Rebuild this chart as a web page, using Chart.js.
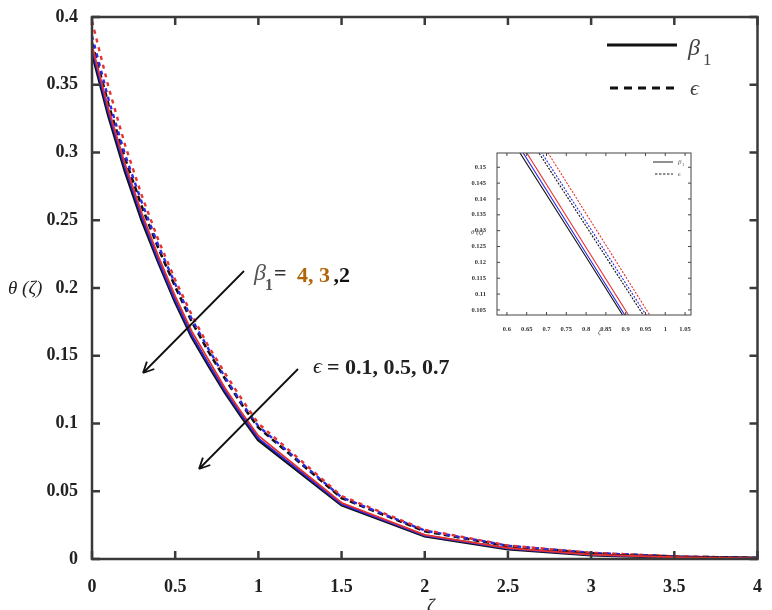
<!DOCTYPE html>
<html>
<head>
<meta charset="utf-8">
<script src="https://cdn.jsdelivr.net/npm/chart.js@4.4.1/dist/chart.umd.min.js"></script>
<style>
  html, body { margin: 0; padding: 0; background: #fff; }
  #wrap { position: relative; width: 772px; height: 610px; }
  #main { position: absolute; left: 0; top: 0; }
  #inset { position: absolute; left: 440px; top: 140px; }
</style>
</head>
<body>
<div id="wrap">
  <canvas id="main" width="772" height="610"></canvas>
  <canvas id="inset" width="260" height="200"></canvas>
</div>
<script>
// main plot: theta(zeta) profiles
const zeta = [0, 0.1, 0.2, 0.3, 0.4, 0.5, 0.6, 0.7, 0.8, 0.9, 1, 1.5, 2, 2.5, 3, 3.5, 4];
const beta4 = [0.374, 0.327, 0.286, 0.250, 0.219, 0.190, 0.164, 0.143, 0.123, 0.105, 0.088, 0.040, 0.017, 0.0075, 0.003, 0.0012, 0.0004];
const beta3 = [0.376, 0.329, 0.288, 0.252, 0.220, 0.191, 0.165, 0.144, 0.124, 0.106, 0.089, 0.0405, 0.0173, 0.0077, 0.0031, 0.0012, 0.0004];
const beta2 = [0.379, 0.332, 0.291, 0.255, 0.223, 0.194, 0.168, 0.147, 0.126, 0.108, 0.091, 0.0415, 0.0178, 0.008, 0.0033, 0.0013, 0.0005];
const eps01 = [0.381, 0.335, 0.295, 0.260, 0.229, 0.201, 0.175, 0.153, 0.133, 0.114, 0.097, 0.045, 0.0205, 0.0095, 0.0043, 0.0018, 0.0008];
const eps05 = [0.386, 0.339, 0.298, 0.263, 0.231, 0.203, 0.177, 0.155, 0.134, 0.115, 0.098, 0.0455, 0.021, 0.0098, 0.0045, 0.0019, 0.0008];
const eps07 = [0.397, 0.348, 0.305, 0.268, 0.235, 0.206, 0.180, 0.157, 0.137, 0.118, 0.100, 0.0465, 0.0215, 0.010, 0.0046, 0.002, 0.0009];

// inset: zoomed view
const zetaInset = [0.6, 0.8, 1.0];
const beta4Inset = [0.161, 0.1217, 0.082];
const beta3Inset = [0.1627, 0.1229, 0.083];
const beta2Inset = [0.1645, 0.1247, 0.0849];
const eps01Inset = [0.1702, 0.1314, 0.0926];
const eps05Inset = [0.1716, 0.1328, 0.094];
const eps07Inset = [0.1752, 0.1354, 0.0956];

const BLACK = '#111111';
const RED = '#e8302f';
const BLUE = '#2b2be6';
const SERIF = '"Liberation Serif", "DejaVu Serif", serif';

const pts = (xs, ys) => xs.map((x, i) => ({ x: x, y: ys[i] }));
const fmt = v => String(+(+v).toFixed(3));

// box around the plot area with inward ticks on all four sides
const boxTicks = {
  id: 'boxTicks',
  afterDatasetsDraw(chart, args, opts) {
    const { ctx, chartArea: a, scales: { x, y } } = chart;
    ctx.save();
    ctx.strokeStyle = opts.color;
    ctx.lineWidth = opts.tickWidth;
    ctx.beginPath();
    x.ticks.forEach(t => {
      const px = x.getPixelForValue(t.value);
      ctx.moveTo(px, a.bottom); ctx.lineTo(px, a.bottom - opts.len);
      ctx.moveTo(px, a.top); ctx.lineTo(px, a.top + opts.len);
    });
    y.ticks.forEach(t => {
      const py = y.getPixelForValue(t.value);
      ctx.moveTo(a.left, py); ctx.lineTo(a.left + opts.len, py);
      ctx.moveTo(a.right, py); ctx.lineTo(a.right - opts.len, py);
    });
    ctx.stroke();
    ctx.lineWidth = opts.width;
    ctx.strokeRect(a.left, a.top, a.right - a.left, a.bottom - a.top);
    ctx.restore();
  }
};

function arrow(ctx, x1, y1, x2, y2, head) {
  const ang = Math.atan2(y2 - y1, x2 - x1);
  ctx.beginPath();
  ctx.moveTo(x1, y1); ctx.lineTo(x2, y2);
  ctx.moveTo(x2, y2);
  ctx.lineTo(x2 - head * Math.cos(ang - 0.45), y2 - head * Math.sin(ang - 0.45));
  ctx.moveTo(x2, y2);
  ctx.lineTo(x2 - head * Math.cos(ang + 0.45), y2 - head * Math.sin(ang + 0.45));
  ctx.stroke();
}

const mainNotes = {
  id: 'mainNotes',
  afterDraw(chart) {
    const ctx = chart.ctx;
    ctx.save();
    // legend
    ctx.strokeStyle = BLACK;
    ctx.lineWidth = 3;
    ctx.beginPath(); ctx.moveTo(607, 45); ctx.lineTo(677, 45); ctx.stroke();
    ctx.setLineDash([8, 6]);
    ctx.beginPath(); ctx.moveTo(610, 88); ctx.lineTo(676, 88); ctx.stroke();
    ctx.setLineDash([]);
    ctx.fillStyle = '#444';
    ctx.textBaseline = 'alphabetic';
    ctx.font = 'italic 24px ' + SERIF;
    ctx.fillText('β', 688, 55);
    ctx.font = '17px ' + SERIF;
    ctx.fillText('1', 703, 65);
    ctx.font = 'italic 22px ' + SERIF;
    ctx.fillText('ϵ', 690, 95);

    // arrows
    ctx.strokeStyle = '#111';
    ctx.lineWidth = 1.8;
    arrow(ctx, 244, 271, 143, 373, 12);
    arrow(ctx, 298, 369, 199, 469, 12);

    // beta annotation
    ctx.fillStyle = '#555';
    ctx.font = 'italic 24px ' + SERIF;
    ctx.fillText('β', 254, 280);
    ctx.font = 'bold 16px ' + SERIF;
    ctx.fillText('1', 265, 290);
    ctx.fillStyle = '#333';
    ctx.font = 'bold 22px ' + SERIF;
    ctx.fillText('=', 274, 280);
    ctx.fillStyle = '#b0650a';
    const part = '4, 3 ';
    ctx.fillText(part, 297, 282);
    ctx.fillStyle = '#111';
    ctx.fillText(',2', 297 + ctx.measureText(part).width - 2, 282);

    // epsilon annotation
    ctx.fillStyle = '#222';
    ctx.font = 'italic 22px ' + SERIF;
    ctx.fillText('ϵ', 313, 373);
    ctx.font = 'bold 22px ' + SERIF;
    ctx.fillText('= 0.1, 0.5, 0.7', 327, 374);

    // axis titles
    ctx.fillStyle = '#222';
    ctx.font = 'italic 19px ' + SERIF;
    ctx.fillText('θ (ζ)', 8, 294);
    ctx.fillText('ζ', 427, 612);
    ctx.restore();
  }
};

const insetNotes = {
  id: 'insetNotes',
  afterDraw(chart) {
    const ctx = chart.ctx;
    ctx.save();
    ctx.strokeStyle = '#222';
    ctx.lineWidth = 1;
    ctx.beginPath(); ctx.moveTo(213, 22); ctx.lineTo(233, 22); ctx.stroke();
    ctx.setLineDash([2.5, 1.5]);
    ctx.beginPath(); ctx.moveTo(215, 34); ctx.lineTo(233, 34); ctx.stroke();
    ctx.setLineDash([]);
    ctx.fillStyle = '#555';
    ctx.font = 'italic 7px ' + SERIF;
    ctx.fillText('β', 238, 24);
    ctx.font = '5px ' + SERIF;
    ctx.fillText('1', 242, 26);
    ctx.font = 'italic 7px ' + SERIF;
    ctx.fillText('ϵ', 238, 36);
    ctx.fillStyle = '#333';
    ctx.font = 'italic 7px ' + SERIF;
    ctx.fillText('θ (ζ)', 31, 94);
    ctx.fillText('ζ', 158, 194);
    ctx.restore();
  }
};

function series(xs, data, color, dashed, width, order) {
  return {
    data: pts(xs, data),
    borderColor: color,
    borderWidth: width,
    borderDash: dashed || [],
    pointRadius: 0,
    tension: 0,
    fill: false,
    order: order
  };
}

new Chart(document.getElementById('main'), {
  type: 'line',
  data: {
    datasets: [
      series(zeta, beta4, BLACK, null, 3.2, 3),
      series(zeta, beta3, BLUE, null, 1.8, 2),
      series(zeta, beta2, RED, null, 1.8, 1),
      series(zeta, eps01, BLACK, [6, 4], 2.6, 6),
      series(zeta, eps05, BLUE, [4, 5], 2.4, 5),
      series(zeta, eps07, RED, [4, 5], 2.4, 4)
    ]
  },
  options: {
    responsive: false,
    animation: false,
    layout: { padding: { top: 17, right: 10, left: 0, bottom: 0 } },
    scales: {
      x: {
        type: 'linear',
        min: 0, max: 4,
        afterFit: s => { s.height = 51; },
        grid: { display: false },
        border: { display: false },
        ticks: {
          stepSize: 0.5, padding: 10, color: '#222', maxRotation: 0,
          font: { family: SERIF, size: 18, weight: 'bold' },
          callback: fmt
        }
      },
      y: {
        min: 0, max: 0.4,
        afterFit: s => { s.width = 92; },
        grid: { display: false },
        border: { display: false },
        ticks: {
          stepSize: 0.05, padding: 6, color: '#222',
          font: { family: SERIF, size: 18, weight: 'bold' },
          callback: fmt
        }
      }
    },
    plugins: {
      legend: { display: false },
      tooltip: { enabled: false },
      boxTicks: { color: '#3a3a3a', width: 2.5, tickWidth: 2.5, len: 8 }
    }
  },
  plugins: [boxTicks, mainNotes]
});

new Chart(document.getElementById('inset'), {
  type: 'line',
  data: {
    datasets: [
      series(zetaInset, beta4Inset, BLACK, null, 1.1, 3),
      series(zetaInset, beta3Inset, BLUE, null, 1.1, 2),
      series(zetaInset, beta2Inset, RED, null, 1.1, 1),
      series(zetaInset, eps01Inset, BLACK, [2, 1.5], 1.1, 6),
      series(zetaInset, eps05Inset, BLUE, [2, 1.5], 1.1, 5),
      series(zetaInset, eps07Inset, RED, [2, 1.5], 1.1, 4)
    ]
  },
  options: {
    responsive: false,
    animation: false,
    layout: { padding: { top: 13, right: 9, left: 0, bottom: 0 } },
    scales: {
      x: {
        type: 'linear',
        min: 0.575, max: 1.065,
        afterFit: s => { s.height = 25; },
        grid: { display: false },
        border: { display: false },
        ticks: {
          stepSize: 0.05, padding: 2, color: '#333', maxRotation: 0, includeBounds: false,
          autoSkip: false,
          font: { family: SERIF, size: 6.5, weight: 'bold' },
          callback: fmt
        }
      },
      y: {
        min: 0.1034, max: 0.1545,
        afterFit: s => { s.width = 57; },
        grid: { display: false },
        border: { display: false },
        ticks: {
          stepSize: 0.005, padding: 3, color: '#333', includeBounds: false,
          autoSkip: false,
          font: { family: SERIF, size: 6.5, weight: 'bold' },
          callback: fmt
        }
      }
    },
    plugins: {
      legend: { display: false },
      tooltip: { enabled: false },
      boxTicks: { color: '#444', width: 1, tickWidth: 1, len: 3 }
    }
  },
  plugins: [boxTicks, insetNotes]
});
</script>
</body>
</html>
